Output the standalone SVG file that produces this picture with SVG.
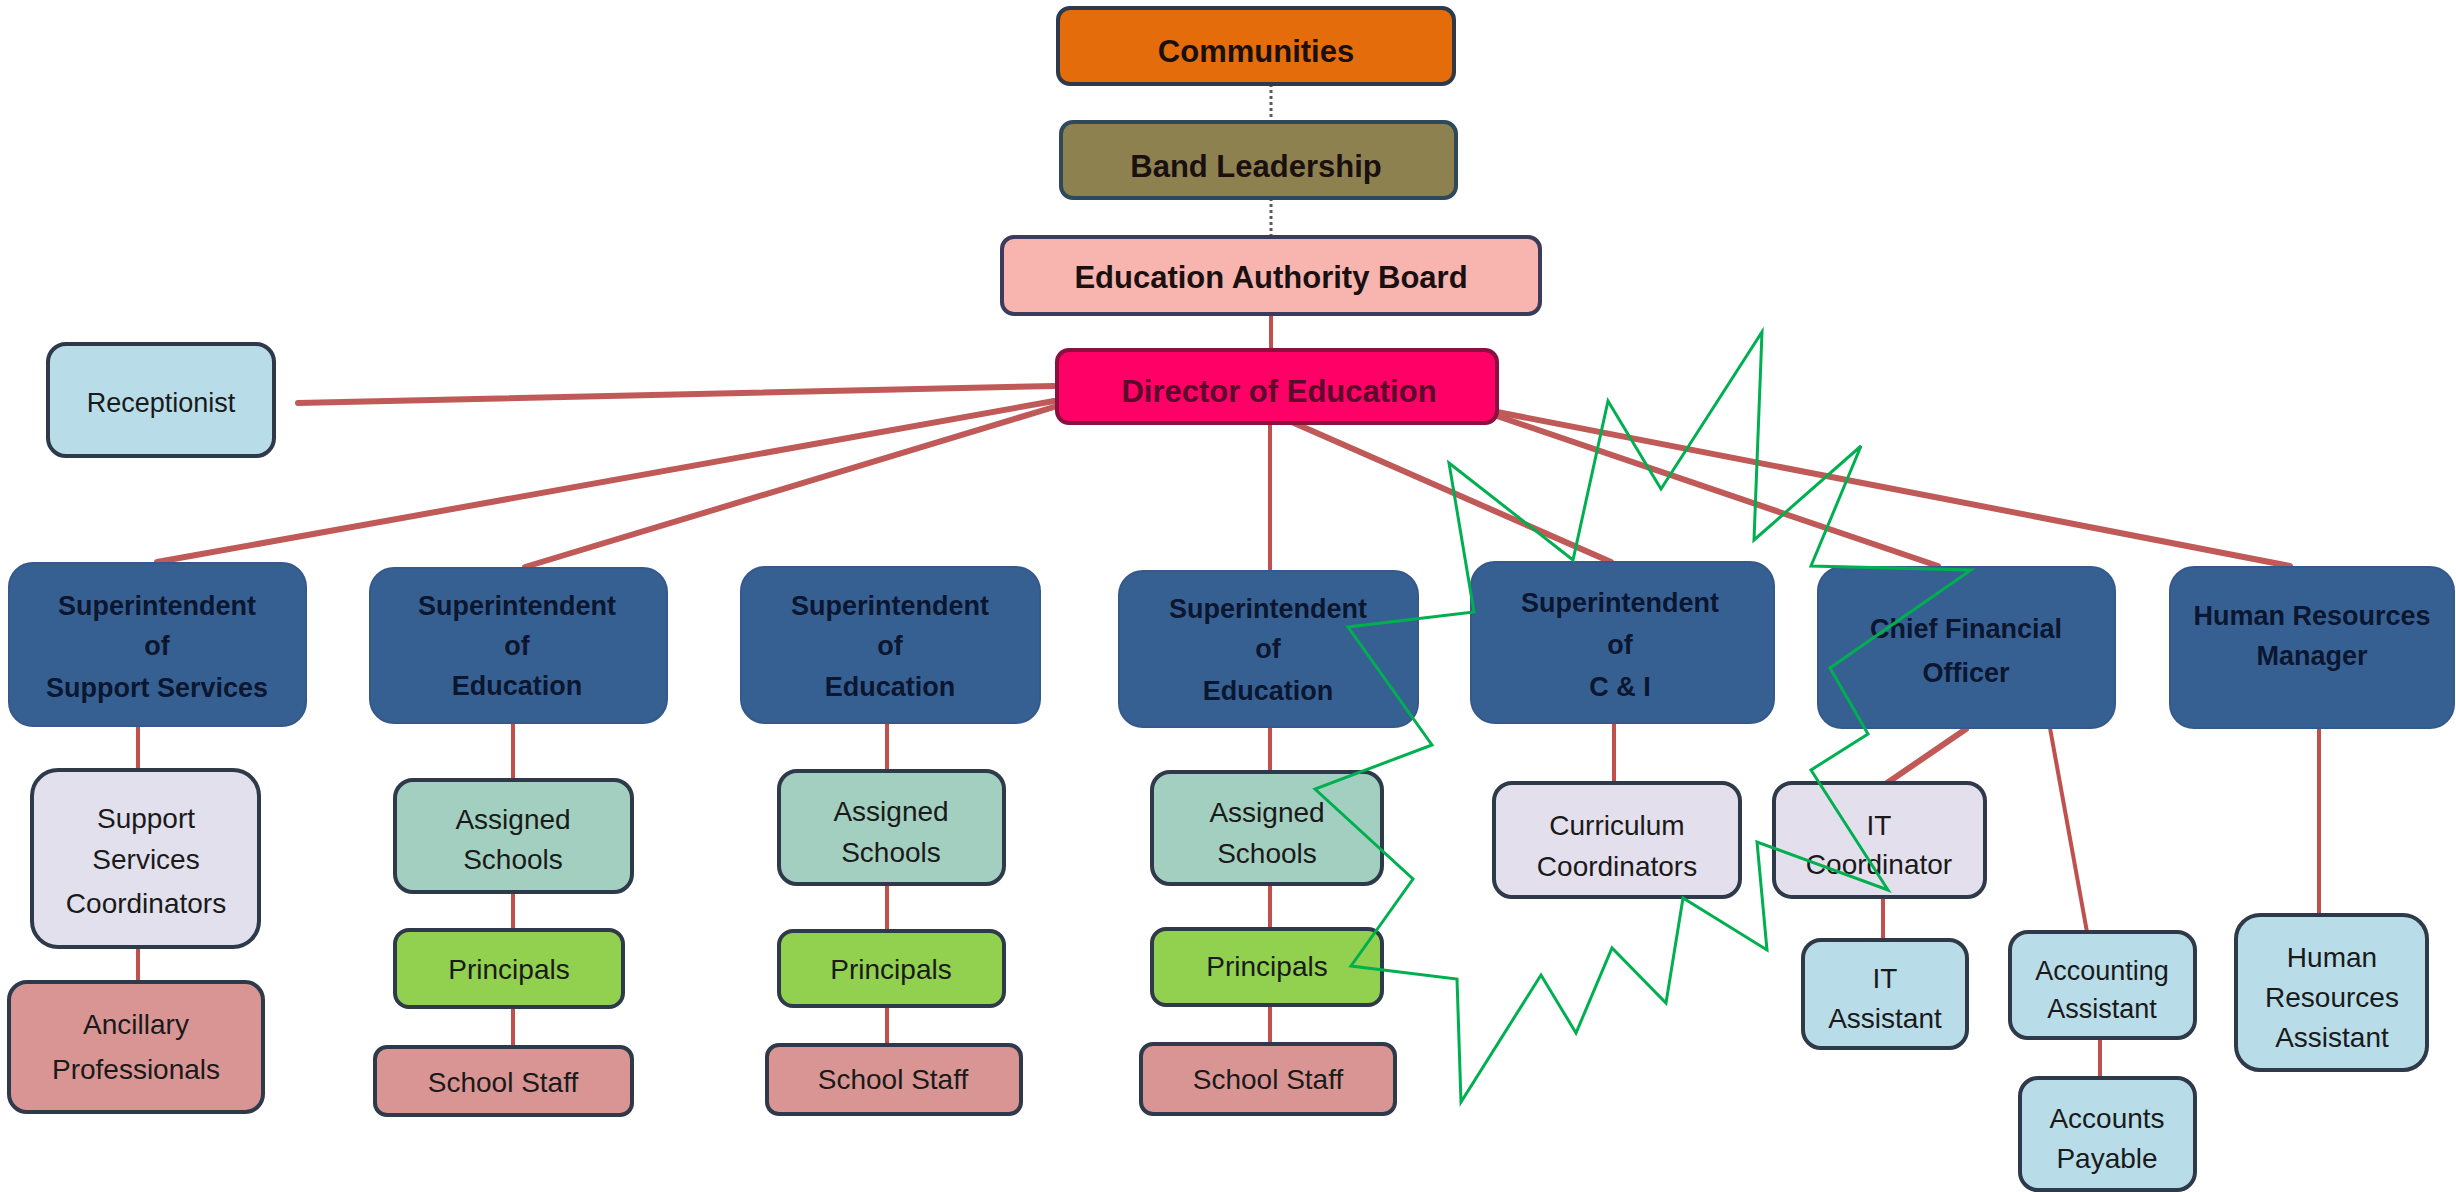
<svg xmlns="http://www.w3.org/2000/svg" width="2456" height="1192" viewBox="0 0 2456 1192">
<style>
  text { font-family: "Liberation Sans", Arial, sans-serif; text-anchor: middle; }
  .top { font-size: 31px; font-weight: bold; fill: #1a1010; }
  .dir { font-size: 31px; font-weight: bold; fill: #5a0a2a; }
  .sup { font-size: 27px; font-weight: bold; fill: #0b1630; }
  .sub { font-size: 28px; fill: #1a1a1a; }
  .box { stroke: #2e3a4a; stroke-width: 4; }
  .blue { fill: #376092; stroke: #35598a; stroke-width: 2; }
  .thick { stroke: #bf5a58; stroke-width: 6; stroke-linecap: round; fill: none; }
  .thin { stroke: #c0504d; stroke-width: 4; fill: none; }
  .dot { stroke: #5a5a5a; stroke-width: 3; stroke-dasharray: 3 3; fill: none; }
  .burst { fill: none; stroke: #00b050; stroke-width: 3; stroke-linejoin: miter; }
</style>

<g id="connectors">
  <line class="dot" x1="1271" y1="84" x2="1271" y2="122"/>
  <line class="dot" x1="1271" y1="198" x2="1271" y2="237"/>
  <line class="thin" x1="1271" y1="314" x2="1271" y2="350"/>
  <line class="thick" x1="1054" y1="386" x2="298" y2="403"/>
  <line class="thick" x1="1054" y1="401" x2="157" y2="562"/>
  <line class="thick" x1="1054" y1="407" x2="525" y2="567"/>
  <line class="thin" x1="1270" y1="423" x2="1270" y2="571"/>
  <line class="thick" x1="1294" y1="423" x2="1611" y2="562"/>
  <line class="thick" x1="1497" y1="416" x2="1938" y2="566"/>
  <line class="thick" x1="1497" y1="412" x2="2290" y2="566"/>
  <line class="thin" x1="138" y1="726" x2="138" y2="770"/>
  <line class="thin" x1="138" y1="947" x2="138" y2="982"/>
  <line class="thin" x1="513" y1="723" x2="513" y2="780"/>
  <line class="thin" x1="513" y1="892" x2="513" y2="930"/>
  <line class="thin" x1="513" y1="1007" x2="513" y2="1047"/>
  <line class="thin" x1="887" y1="723" x2="887" y2="771"/>
  <line class="thin" x1="887" y1="884" x2="887" y2="931"/>
  <line class="thin" x1="887" y1="1006" x2="887" y2="1045"/>
  <line class="thin" x1="1270" y1="727" x2="1270" y2="772"/>
  <line class="thin" x1="1270" y1="884" x2="1270" y2="929"/>
  <line class="thin" x1="1270" y1="1005" x2="1270" y2="1044"/>
  <line class="thin" x1="1614" y1="723" x2="1614" y2="783"/>
  <line class="thick" x1="1966" y1="729" x2="1887" y2="783"/>
  <line class="thin" x1="2050" y1="728" x2="2087" y2="932"/>
  <line class="thin" x1="1883" y1="897" x2="1883" y2="940"/>
  <line class="thin" x1="2100" y1="1038" x2="2100" y2="1078"/>
  <line class="thin" x1="2319" y1="727" x2="2319" y2="915"/>
</g>

<g id="communities">
  <rect class="box" x="1058" y="8" width="396" height="76" rx="12" fill="#e46c0a" stroke="#4a4a4a"/>
  <text class="top" x="1256" y="62">Communities</text>
</g>
<g id="band-leadership">
  <rect class="box" x="1061" y="122" width="395" height="76" rx="12" fill="#8e8150" style="stroke:#2e4a5a"/>
  <text class="top" x="1256" y="177">Band  Leadership</text>
</g>
<g id="education-authority-board">
  <rect class="box" x="1002" y="237" width="538" height="77" rx="12" fill="#f8b5b0" style="stroke:#3b3b5b"/>
  <text class="top" x="1271" y="288">Education  Authority Board</text>
</g>
<g id="director">
  <rect class="box" x="1057" y="350" width="440" height="73" rx="12" fill="#ff0066" style="stroke:#8a1040"/>
  <text class="dir" x="1279" y="402">Director of Education</text>
</g>
<g id="receptionist">
  <rect class="box" x="48" y="344" width="226" height="112" rx="18" fill="#b9dde8"/>
  <text class="sub" x="161" y="412" style="font-size:27px">Receptionist</text>
</g>

<g id="sup-support-services">
  <rect class="blue" x="9" y="563" width="297" height="163" rx="24"/>
  <text class="sup" x="157" y="615">Superintendent</text>
  <text class="sup" x="157" y="655">of</text>
  <text class="sup" x="157" y="697">Support Services</text>
</g>
<g id="sup-education-1">
  <rect class="blue" x="370" y="568" width="297" height="155" rx="24"/>
  <text class="sup" x="517" y="615">Superintendent</text>
  <text class="sup" x="517" y="655">of</text>
  <text class="sup" x="517" y="695">Education</text>
</g>
<g id="sup-education-2">
  <rect class="blue" x="741" y="567" width="299" height="156" rx="24"/>
  <text class="sup" x="890" y="615">Superintendent</text>
  <text class="sup" x="890" y="655">of</text>
  <text class="sup" x="890" y="696">Education</text>
</g>
<g id="sup-education-3">
  <rect class="blue" x="1119" y="571" width="299" height="156" rx="24"/>
  <text class="sup" x="1268" y="618">Superintendent</text>
  <text class="sup" x="1268" y="658">of</text>
  <text class="sup" x="1268" y="700">Education</text>
</g>
<g id="sup-ci">
  <rect class="blue" x="1471" y="562" width="303" height="161" rx="24"/>
  <text class="sup" x="1620" y="612">Superintendent</text>
  <text class="sup" x="1620" y="654">of</text>
  <text class="sup" x="1620" y="696">C &amp; I</text>
</g>
<g id="cfo">
  <rect class="blue" x="1818" y="567" width="297" height="161" rx="24"/>
  <text class="sup" x="1966" y="638">Chief Financial</text>
  <text class="sup" x="1966" y="682">Officer</text>
</g>
<g id="hr-manager">
  <rect class="blue" x="2170" y="567" width="284" height="161" rx="24"/>
  <text class="sup" x="2312" y="625">Human Resources</text>
  <text class="sup" x="2312" y="665">Manager</text>
</g>

<g id="support-services-coordinators">
  <rect class="box" x="32" y="770" width="227" height="177" rx="26" fill="#e2e0ec"/>
  <text class="sub" x="146" y="828">Support</text>
  <text class="sub" x="146" y="869">Services</text>
  <text class="sub" x="146" y="913">Coordinators</text>
</g>
<g id="ancillary-professionals">
  <rect class="box" x="9" y="982" width="254" height="130" rx="18" fill="#d99594"/>
  <text class="sub" x="136" y="1034">Ancillary</text>
  <text class="sub" x="136" y="1079">Professionals</text>
</g>

<g id="assigned-schools-1">
  <rect class="box" x="395" y="780" width="237" height="112" rx="18" fill="#a3cfc0"/>
  <text class="sub" x="513" y="829">Assigned</text>
  <text class="sub" x="513" y="869">Schools</text>
</g>
<g id="principals-1">
  <rect class="box" x="395" y="930" width="228" height="77" rx="14" fill="#92d050"/>
  <text class="sub" x="509" y="979">Principals</text>
</g>
<g id="school-staff-1">
  <rect class="box" x="375" y="1047" width="257" height="68" rx="12" fill="#d99594"/>
  <text class="sub" x="503" y="1092">School Staff</text>
</g>

<g id="assigned-schools-2">
  <rect class="box" x="779" y="771" width="225" height="113" rx="18" fill="#a3cfc0"/>
  <text class="sub" x="891" y="821">Assigned</text>
  <text class="sub" x="891" y="862">Schools</text>
</g>
<g id="principals-2">
  <rect class="box" x="779" y="931" width="225" height="75" rx="14" fill="#92d050"/>
  <text class="sub" x="891" y="979">Principals</text>
</g>
<g id="school-staff-2">
  <rect class="box" x="767" y="1045" width="254" height="69" rx="12" fill="#d99594"/>
  <text class="sub" x="893" y="1089">School Staff</text>
</g>

<g id="assigned-schools-3">
  <rect class="box" x="1152" y="772" width="230" height="112" rx="18" fill="#a3cfc0"/>
  <text class="sub" x="1267" y="822">Assigned</text>
  <text class="sub" x="1267" y="863">Schools</text>
</g>
<g id="principals-3">
  <rect class="box" x="1152" y="929" width="230" height="76" rx="14" fill="#92d050"/>
  <text class="sub" x="1267" y="976">Principals</text>
</g>
<g id="school-staff-3">
  <rect class="box" x="1141" y="1044" width="254" height="70" rx="12" fill="#d99594"/>
  <text class="sub" x="1268" y="1089">School Staff</text>
</g>

<g id="curriculum-coordinators">
  <rect class="box" x="1494" y="783" width="246" height="114" rx="18" fill="#e4dfec"/>
  <text class="sub" x="1617" y="835">Curriculum</text>
  <text class="sub" x="1617" y="876">Coordinators</text>
</g>
<g id="it-coordinator">
  <rect class="box" x="1774" y="783" width="211" height="114" rx="18" fill="#e4dfec"/>
  <text class="sub" x="1879" y="835">IT</text>
  <text class="sub" x="1879" y="874">Coordinator</text>
</g>
<g id="it-assistant">
  <rect class="box" x="1803" y="940" width="164" height="108" rx="18" fill="#b9dde8"/>
  <text class="sub" x="1885" y="988">IT</text>
  <text class="sub" x="1885" y="1028">Assistant</text>
</g>
<g id="accounting-assistant">
  <rect class="box" x="2010" y="932" width="185" height="106" rx="18" fill="#b9dde8"/>
  <text class="sub" x="2102" y="980" style="font-size:27px">Accounting</text>
  <text class="sub" x="2102" y="1018" style="font-size:27px">Assistant</text>
</g>
<g id="accounts-payable">
  <rect class="box" x="2020" y="1078" width="175" height="112" rx="18" fill="#b9dde8"/>
  <text class="sub" x="2107" y="1128">Accounts</text>
  <text class="sub" x="2107" y="1168">Payable</text>
</g>
<g id="hr-assistant">
  <rect class="box" x="2236" y="915" width="191" height="155" rx="24" fill="#b9dde8"/>
  <text class="sub" x="2332" y="967">Human</text>
  <text class="sub" x="2332" y="1007">Resources</text>
  <text class="sub" x="2332" y="1047">Assistant</text>
</g>

<polygon class="burst" points="1449,463 1573,560 1608,401 1661,489 1762,332 1754,540 1861,446 1811,566 1971,570 1830,668 1868,734 1811,770 1888,890 1757,842 1767,950 1683,898 1666,1003 1612,948 1576,1033 1541,975 1461,1102 1457,979 1351,966 1413,879 1315,789 1432,745 1348,627 1474,612"/>
</svg>
